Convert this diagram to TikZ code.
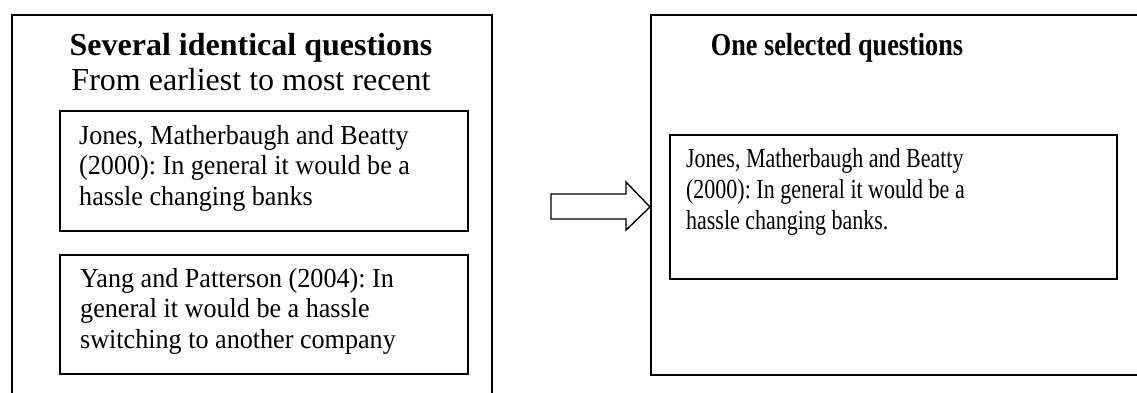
\documentclass[tikz,border=0pt]{standalone}
\usepackage{fontspec}
\setmainfont{Liberation Serif}
\frenchspacing
\begin{document}
\begin{tikzpicture}[x=1pt,y=1pt,
  frame/.style={draw, line width=1.8pt, inner sep=0pt, anchor=north west},
  entry/.style={anchor=base west, align=left, inner sep=0pt,
    font=\fontsize{27.5}{30.5}\selectfont},
  heading/.style={anchor=base, inner sep=0pt, font=\fontsize{32}{35}\selectfont\bfseries},
  subheading/.style={anchor=base, inner sep=0pt, font=\fontsize{32}{35}\selectfont},
  blockarrow/.style={draw, line width=1.4pt, line join=miter}
]
\useasboundingbox (0,0) rectangle (1137,392);
\clip (0,0) rectangle (1137,392);

% outer panels
\node[frame, minimum width=480pt, minimum height=398pt] (leftpanel) at (11,378) {};
\node[frame, minimum width=520pt, minimum height=360pt] (rightpanel) at (650,378) {};

% left panel: headings and the two candidate questions
\node[heading] (lefttitle) at (251,337) {Several identical questions};
\node[subheading] (leftsub) at (251,302) {From earliest to most recent};

% multi-line texts are placed by the baseline of their last line
\node[frame, minimum width=408pt, minimum height=120pt] (qone) at (59,282) {};
\node[entry, xscale=0.95] (qonetext) at (79,187) {Jones, Matherbaugh and Beatty\\(2000): In general it would be a\\hassle changing banks};

\node[frame, minimum width=408pt, minimum height=119pt] (qtwo) at (59,138) {};
\node[entry, xscale=0.95] (qtwotext) at (80,44) {Yang and Patterson (2004): In\\general it would be a hassle\\switching to another company};

% right panel: the selected question, set narrower
\node[heading, xscale=0.82] (righttitle) at (837,337) {One selected questions};
\node[frame, minimum width=447pt, minimum height=144pt] (qsel) at (669,258) {};
\node[entry, xscale=0.8, font=\fontsize{27.5}{31}\selectfont] (qseltext) at (686,163) {Jones, Matherbaugh and Beatty\\(2000): In general it would be a\\hassle changing banks.};

% block arrow ending on the right panel
\coordinate (tip) at (rightpanel.west |- 0,185);
\draw[blockarrow] (tip) -- ++(-24,25) -- ++(0,-12) -- ++(-75,0) -- ++(0,-25)
  -- ++(75,0) -- ++(0,-11) -- cycle;
\end{tikzpicture}
\end{document}
